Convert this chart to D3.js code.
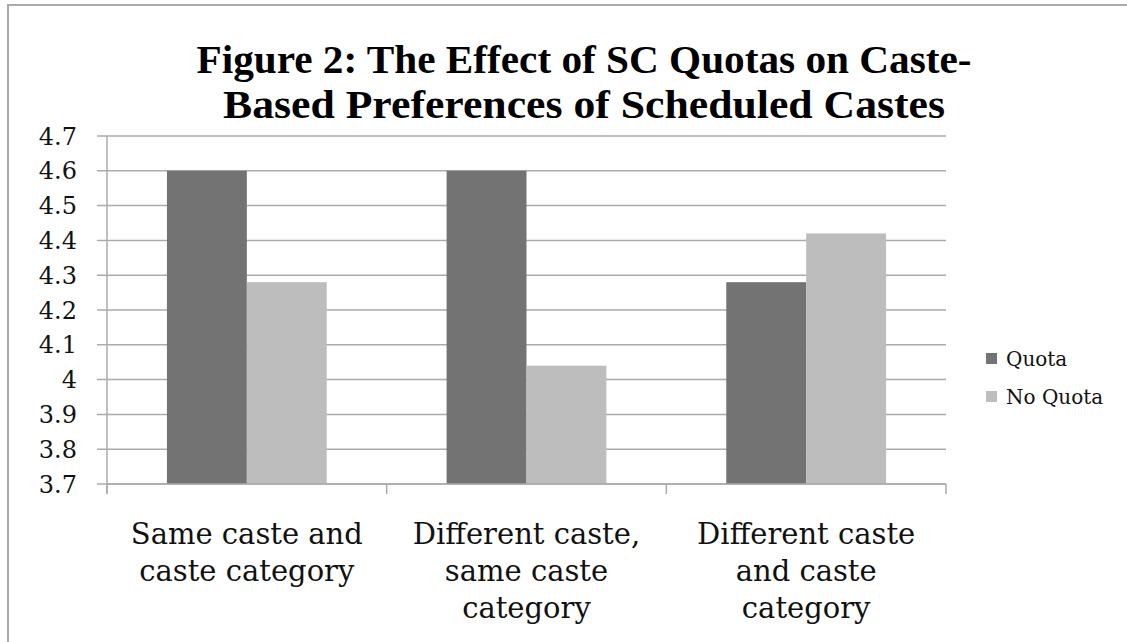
<!DOCTYPE html>
<html>
<head>
<meta charset="utf-8">
<script src="https://cdn.jsdelivr.net/npm/d3@7"></script>
<style>
  body { margin: 0; background: #fff; }
  svg { display: block; }
</style>
</head>
<body>
<svg id="chart" width="1127" height="642"></svg>
<script>
// data
const categories = ["Same caste and caste category", "Different caste, same caste category", "Different caste and caste category"];
const categoryLines = [["Same caste and", "caste category"], ["Different caste,", "same caste", "category"], ["Different caste", "and caste", "category"]];
const series = ["Quota", "No Quota"];
const quota = [4.6, 4.6, 4.28];
const noQuota = [4.28, 4.04, 4.42];
const yTicks = [3.7, 3.8, 3.9, 4, 4.1, 4.2, 4.3, 4.4, 4.5, 4.6, 4.7];
const titleLines = ["Figure 2: The Effect of SC Quotas on Caste-", "Based Preferences of Scheduled Castes"];
const titleWidths = [775, 722];

const colors = { "Quota": "#737373", "No Quota": "#bdbdbd" };
const serif = "'DejaVu Serif', serif";

const svg = d3.select("#chart");

// outer frame (only top/left edges are visible)
svg.append("rect")
  .attr("x", 8).attr("y", 5)
  .attr("width", 1300).attr("height", 800)
  .attr("fill", "#fff")
  .attr("stroke", "#aaa")
  .attr("stroke-width", 2);

// title
svg.append("g").selectAll("text")
  .data(titleLines)
  .enter().append("text")
  .attr("x", 584)
  .attr("y", (d, i) => 73 + i * 45)
  .attr("text-anchor", "middle")
  .attr("font-family", "'Liberation Serif', serif")
  .attr("font-weight", "bold")
  .attr("font-size", 40)
  .attr("textLength", (d, i) => titleWidths[i])
  .attr("lengthAdjust", "spacingAndGlyphs")
  .attr("fill", "#000")
  .text(d => d);

const rows = categories.map((c, i) => ({ cat: c, "Quota": quota[i], "No Quota": noQuota[i] }));

const x0 = d3.scaleBand().domain(categories).range([107, 946]);
const x1 = d3.scaleBand().domain(series).range([0, x0.bandwidth()]).paddingOuter(0.75);
const y = d3.scaleLinear().domain([3.7, 4.7]).range([484, 136]);

// gridlines + y tick marks
svg.append("g").selectAll("line")
  .data(yTicks)
  .enter().append("line")
  .attr("x1", 97).attr("x2", 946)
  .attr("y1", d => y(d)).attr("y2", d => y(d))
  .attr("stroke", "#ababab")
  .attr("stroke-width", 1.5);

// y axis line
svg.append("line")
  .attr("x1", 107).attr("x2", 107)
  .attr("y1", y(4.7)).attr("y2", 494)
  .attr("stroke", "#ababab")
  .attr("stroke-width", 1.5);

// y labels
svg.append("g").selectAll("text")
  .data(yTicks)
  .enter().append("text")
  .attr("x", 77)
  .attr("y", d => y(d))
  .attr("dy", "0.36em")
  .attr("text-anchor", "end")
  .attr("font-family", serif)
  .attr("font-size", 24)
  .attr("fill", "#111")
  .text(d => d3.format("")(d));

// bars
const groups = svg.append("g").selectAll("g")
  .data(rows)
  .enter().append("g")
  .attr("transform", d => "translate(" + x0(d.cat) + ",0)");

groups.selectAll("rect")
  .data(d => series.map(s => ({ key: s, value: d[s] })))
  .enter().append("rect")
  .attr("x", d => x1(d.key))
  .attr("y", d => y(d.value))
  .attr("width", x1.bandwidth())
  .attr("height", d => y(3.7) - y(d.value))
  .attr("fill", d => colors[d.key]);

// x axis line + category ticks
svg.append("line")
  .attr("x1", 107).attr("x2", 946)
  .attr("y1", y(3.7)).attr("y2", y(3.7))
  .attr("stroke", "#ababab")
  .attr("stroke-width", 1.5);

const bounds = categories.map(c => x0(c)).concat([x0.range()[1]]);
svg.append("g").selectAll("line")
  .data(bounds)
  .enter().append("line")
  .attr("x1", d => d).attr("x2", d => d)
  .attr("y1", y(3.7)).attr("y2", y(3.7) + 10)
  .attr("stroke", "#ababab")
  .attr("stroke-width", 1.5);

// category labels
const labels = svg.append("g").selectAll("text")
  .data(categories)
  .enter().append("text")
  .attr("text-anchor", "middle")
  .attr("font-family", serif)
  .attr("font-size", 29)
  .attr("fill", "#111");

labels.selectAll("tspan")
  .data((d, i) => categoryLines[i].map(t => ({ t: t, cat: d })))
  .enter().append("tspan")
  .attr("x", d => x0(d.cat) + x0.bandwidth() / 2)
  .attr("y", (d, i) => 544 + i * 37)
  .text(d => d.t);

// legend
const legend = svg.append("g").selectAll("g")
  .data(series)
  .enter().append("g")
  .attr("transform", (d, i) => "translate(986," + (353 + i * 38) + ")");

legend.append("rect")
  .attr("width", 11).attr("height", 11)
  .attr("fill", d => colors[d]);

legend.append("text")
  .attr("x", 20)
  .attr("y", 6)
  .attr("dy", "0.36em")
  .attr("font-family", serif)
  .attr("font-size", 20)
  .attr("fill", "#111")
  .text(d => d);
</script>
</body>
</html>
